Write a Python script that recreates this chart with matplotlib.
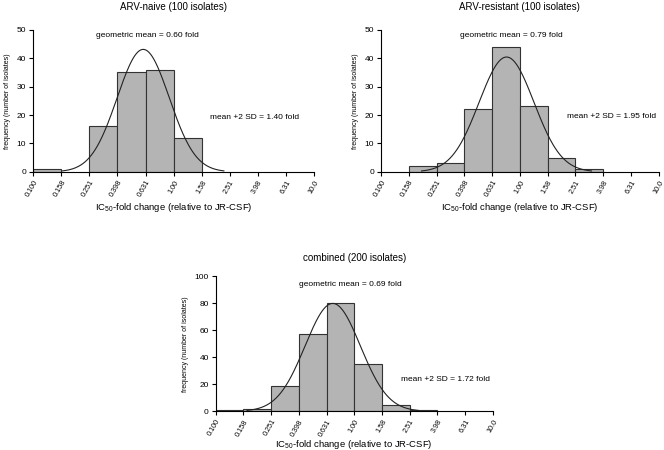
import numpy as np
import matplotlib.pyplot as plt

plt.rcParams['font.family'] = ['Liberation Sans', 'DejaVu Sans']
plt.rcParams['mathtext.default'] = 'regular'

# bin edges (fold change, log spaced)
tick_labels = ['0.100', '0.158', '0.251', '0.398', '0.631', '1.00', '1.58', '2.51', '3.98', '6.31', '10.0']

# counts per bin (10 bins between the 11 edges)
naive_counts = [1, 0, 16, 35, 36, 12, 0, 0, 0, 0]
resistant_counts = [0, 2, 3, 22, 44, 23, 5, 1, 0, 0]
combined_counts = [1, 2, 19, 57, 80, 35, 5, 1, 0, 0]

# fitted log-normal parameters from the annotations
naive_gmean, naive_2sd = 0.60, 1.40
resistant_gmean, resistant_2sd = 0.79, 1.95
combined_gmean, combined_2sd = 0.69, 1.72

edges = [float(t) for t in tick_labels]


def panel(ax, title, counts, gmean, upper, ymax, ystep, gm_xy, sd_xy, tpad, lpad):
    x = np.arange(len(counts))
    heights = np.array(counts, dtype=float)
    keep = heights > 0
    ax.bar(x[keep], heights[keep], width=1.0, align='edge', color='#b4b4b4',
           edgecolor='#333333', linewidth=0.8, zorder=1)

    # normal curve on log10 scale, converted to bin-index positions
    log0 = np.log10(edges[0])
    binw = np.log10(edges[1]) - log0
    mu = (np.log10(gmean) - log0) / binw
    sd = (np.log10(upper) - np.log10(gmean)) / 2 / binw
    n = heights.sum()
    xs = np.linspace(mu - 3.1 * sd, mu + 3.1 * sd, 300)
    ys = n / (sd * np.sqrt(2 * np.pi)) * np.exp(-0.5 * ((xs - mu) / sd) ** 2)
    ax.plot(xs, ys, color='#222222', linewidth=0.8, zorder=2)

    ax.set_xlim(0, 10)
    ax.set_ylim(0, ymax)
    ax.set_yticks(np.arange(0, ymax + 1, ystep))
    ax.set_xticks(np.arange(11))
    ax.set_xticklabels(tick_labels, rotation=60, ha='right', rotation_mode='anchor', fontsize=5.2)
    ax.tick_params(axis='y', labelsize=6, length=3, width=0.8, pad=2)
    ax.tick_params(axis='x', length=3, width=0.8, pad=2)
    for s in ['top', 'right']:
        ax.spines[s].set_visible(False)
    for s in ['left', 'bottom']:
        ax.spines[s].set_linewidth(0.8)
    ax.set_title(title, fontsize=7, pad=tpad)
    ax.set_xlabel(r'IC$_{50}$-fold change (relative to JR-CSF)', fontsize=6.8, labelpad=lpad)
    ax.set_ylabel('frequency (number of isolates)', fontsize=5, labelpad=4)
    ax.text(gm_xy[0], gm_xy[1], 'geometric mean = %.2f fold' % gmean, ha='center', va='center', fontsize=6)
    ax.text(sd_xy[0], sd_xy[1], 'mean +2 SD = %.2f fold' % upper, ha='left', va='center', fontsize=6)


fig = plt.figure(figsize=(6.64, 4.5), dpi=100)
ax1 = fig.add_axes([0.050, 0.618, 0.423, 0.316])
ax2 = fig.add_axes([0.574, 0.618, 0.418, 0.316])
ax3 = fig.add_axes([0.325, 0.086, 0.417, 0.300])

panel(ax1, 'ARV-naive (100 isolates)', naive_counts, naive_gmean, naive_2sd, 50, 10, (4.06, 47.9), (6.3, 19.0), 14, 2)
panel(ax2, 'ARV-resistant (100 isolates)', resistant_counts, resistant_gmean, resistant_2sd, 50, 10, (4.68, 48), (6.68, 19.4), 14, 2)
panel(ax3, 'combined (200 isolates)', combined_counts, combined_gmean, combined_2sd, 100, 20, (4.87, 94), (6.69, 23.9), 11, 0.5)

fig.savefig('out.png', dpi=100)
